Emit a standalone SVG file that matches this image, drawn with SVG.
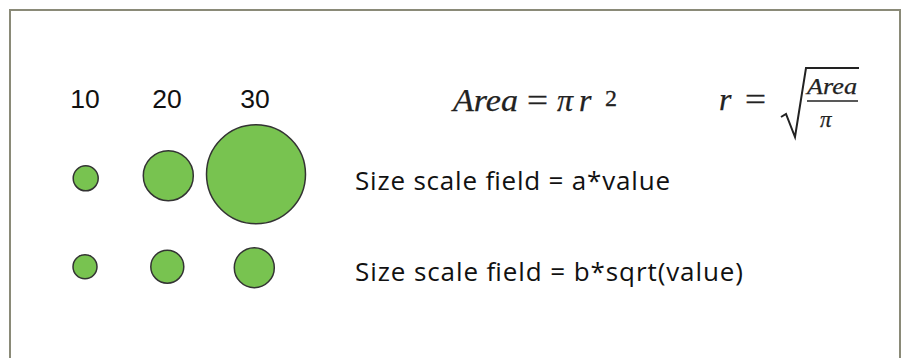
<svg xmlns="http://www.w3.org/2000/svg" width="906" height="358" viewBox="0 0 906 358">
<style>
.frame{fill:#ffffff;stroke:#8a8a78;stroke-width:2}
.dot{fill:#78c350;stroke:#333333;stroke-width:1.5}
.num{font-family:"Liberation Sans",Arial,sans-serif;font-size:26.5px;fill:#111111}
.lbl{font-family:"Open Sans","Liberation Sans",sans-serif;font-size:26px;fill:#111111}
.math{font-family:"Liberation Serif","DejaVu Serif",serif;font-style:italic;fill:#222222;stroke:#222222;stroke-width:0.25}
.up{font-family:"Liberation Serif","DejaVu Serif",serif;fill:#222222;stroke:#222222;stroke-width:0.3}
</style>
<rect class="frame" x="10" y="10" width="890" height="360"/>
<g id="values">
<text class="num" x="85" y="108" text-anchor="middle">10</text>
<text class="num" x="167" y="108" text-anchor="middle">20</text>
<text class="num" x="255" y="108" text-anchor="middle">30</text>
</g>
<g id="linear-row">
<circle class="dot" cx="85.7" cy="178.3" r="12.5"/>
<circle class="dot" cx="168.3" cy="175.7" r="25"/>
<circle class="dot" cx="256" cy="174.3" r="49.5"/>
</g>
<g id="sqrt-row">
<circle class="dot" cx="85" cy="266.7" r="12"/>
<circle class="dot" cx="167.3" cy="266.7" r="16.5"/>
<circle class="dot" cx="254.3" cy="267.7" r="20"/>
</g>
<g id="formula-area">
<text class="math" x="453" y="111" font-size="32" textLength="65" lengthAdjust="spacingAndGlyphs">Area</text>
<text class="up" x="527" y="111" font-size="32" textLength="21" lengthAdjust="spacingAndGlyphs">=</text>
<text class="math" x="557" y="111" font-size="32">π</text>
<text class="math" x="579" y="111" font-size="32">r</text>
<text class="up" x="605" y="106" font-size="24">2</text>
</g>
<g id="formula-r">
<text class="math" x="719" y="110" font-size="32">r</text>
<text class="up" x="745" y="110" font-size="32" textLength="21" lengthAdjust="spacingAndGlyphs">=</text>
<path d="M781,117 L786,114 L795,137 L806,68 L859,68" fill="none" stroke="#222222" stroke-width="2" stroke-linejoin="miter"/>
<text class="math" x="807" y="94" font-size="23" textLength="50" lengthAdjust="spacingAndGlyphs">Area</text>
<line x1="807" y1="101" x2="858" y2="101" stroke="#222222" stroke-width="1.6"/>
<text class="math" x="820" y="127" font-size="23">π</text>
</g>
<g id="label-linear">
<text class="lbl" x="355" y="190" textLength="315" lengthAdjust="spacing">Size scale field = a*value</text>
</g>
<g id="label-sqrt">
<text class="lbl" x="355" y="280.5" textLength="388" lengthAdjust="spacing">Size scale field = b*sqrt(value)</text>
</g>
</svg>
